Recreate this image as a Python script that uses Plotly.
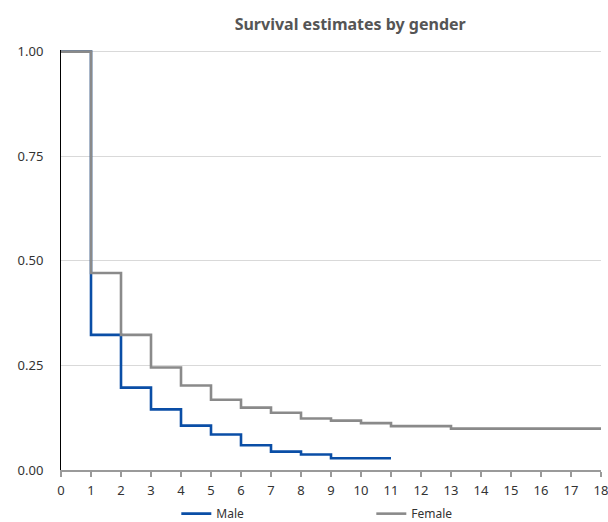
import plotly.graph_objects as go

male_time = [0, 1, 2, 3, 4, 5, 6, 7, 8, 9, 11]
male_surv = [1.0, 0.323, 0.197, 0.145, 0.106, 0.085, 0.059, 0.044, 0.037, 0.028, 0.028]

female_time = [0, 1, 2, 3, 4, 5, 6, 7, 8, 9, 10, 11, 13, 18]
female_surv = [1.0, 0.471, 0.323, 0.245, 0.202, 0.168, 0.149, 0.137, 0.123, 0.118, 0.112, 0.105, 0.099, 0.099]

x_ticks = list(range(0, 19))
y_ticks = [0, 0.25, 0.5, 0.75, 1.0]
y_tick_labels = ["0.00", "0.25", "0.50", "0.75", "1.00"]

FONT = "'Noto Sans', 'Open Sans', sans-serif"

fig = go.Figure()
fig.add_trace(go.Scatter(x=male_time, y=male_surv, mode="lines", name="Male",
                         line=dict(shape="hv", color="#0a4ea6", width=2.6)))
fig.add_trace(go.Scatter(x=female_time, y=female_surv, mode="lines", name="Female",
                         line=dict(shape="hv", color="#8a8a8a", width=2.6)))

fig.update_layout(
    width=608, height=522,
    margin=dict(l=61, r=7, t=50, b=52, autoexpand=False),
    paper_bgcolor="white", plot_bgcolor="white",
    font=dict(family=FONT, size=12, color="#333333"),
    title=dict(text="<b>Survival estimates by gender</b>", x=0.576, xanchor="center",
               xref="container", yref="container",
               y=0.953, yanchor="middle",
               font=dict(family=FONT, size=16, color="#555555")),
    showlegend=True,
    legend=dict(orientation="h", xref="container", yref="container",
                x=0.29, xanchor="left", y=0.016, yanchor="middle",
                entrywidth=150, entrywidthmode="pixels", itemwidth=30,
                font=dict(family=FONT, size=12, color="#333333"),
                bgcolor="rgba(0,0,0,0)"),
)
fig.update_xaxes(range=[0, 18], tickvals=x_ticks, ticks="outside", ticklen=5,
                 tickcolor="#9a9a9a", tickwidth=1.5, showline=True, linecolor="#9a9a9a",
                 linewidth=1.5, showgrid=False, zeroline=False, automargin=False,
                 ticklabeloverflow="allow", ticklabelstandoff=3,
                 tickfont=dict(size=13, color="#333333"))
fig.update_yaxes(range=[0, 1.004], tickvals=y_ticks, ticktext=y_tick_labels,
                 showline=True, linecolor="#000000", linewidth=1, showgrid=True,
                 gridcolor="#d9d9d9", gridwidth=1, zeroline=False, ticks="",
                 automargin=False,
                 ticklabelstandoff=14, tickfont=dict(size=13, color="#333333"))

fig.write_html("out.html", config={"displayModeBar": False},
               post_script="document.body.style.margin='0px';")
